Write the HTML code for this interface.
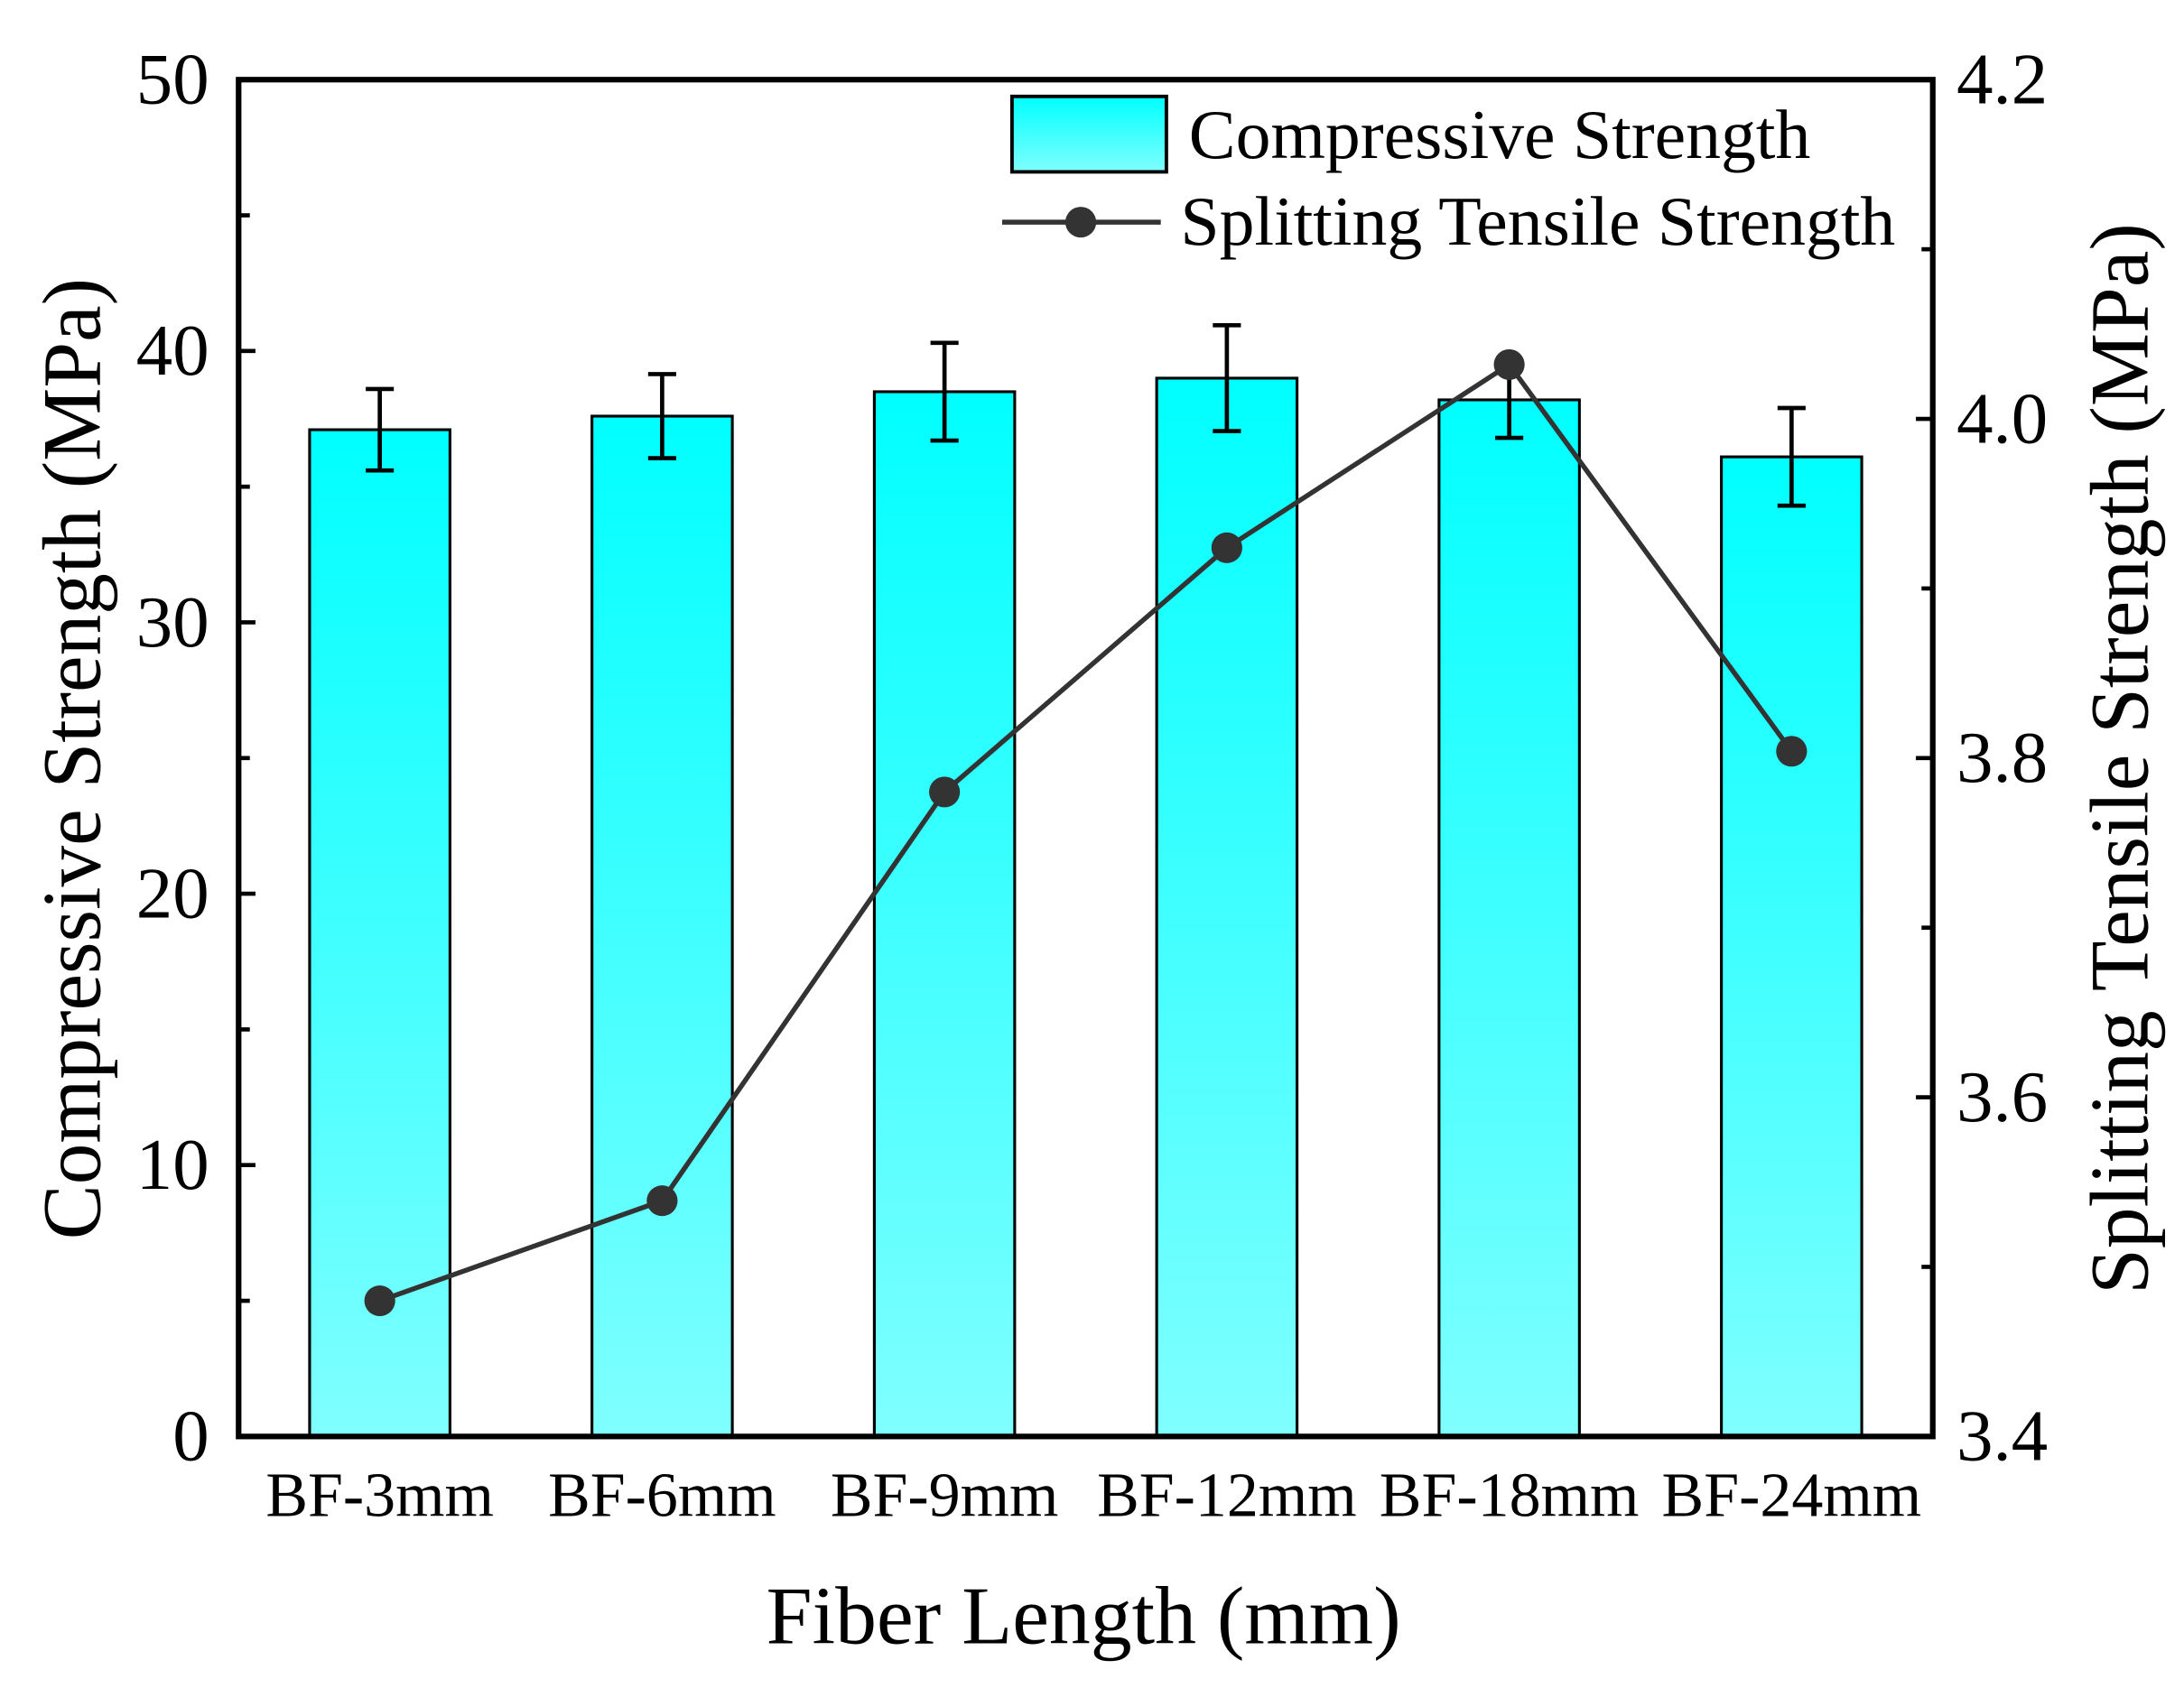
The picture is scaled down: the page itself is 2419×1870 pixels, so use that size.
<!DOCTYPE html>
<html><head><meta charset="utf-8"><style>
html,body{margin:0;padding:0;background:#fff;}
svg{display:block;}
text{font-family:"Liberation Serif",serif;fill:#000;}
</style></head><body>
<svg id="chart" width="2419" height="1870" viewBox="0 0 1556 1208" preserveAspectRatio="none" xmlns="http://www.w3.org/2000/svg">
<defs><linearGradient id="bg" x1="0" y1="0" x2="0" y2="1"><stop offset="0" stop-color="#00FFFF"/><stop offset="1" stop-color="#80FFFF"/></linearGradient></defs>
<g id="plot"></g>
</svg>
<script>
const categories = ["BF-3mm","BF-6mm","BF-9mm","BF-12mm","BF-18mm","BF-24mm"];
const compressive = [37.1,37.6,38.5,39.0,38.2,36.1];
const compressiveErr = [1.5,1.55,1.8,1.95,1.4,1.8];
const tensile = [3.48,3.539,3.78,3.924,4.032,3.804];
const leftTicks = [0,10,20,30,40,50];
const rightTicks = ["3.4","3.6","3.8","4.0","4.2"];

const NS="http://www.w3.org/2000/svg";
const L=170,R=1377,T=57,B=1028;
const yL=v=>B-(v/50)*(B-T);
const yR=v=>B-((v-3.4)/0.8)*(B-T);
const xC=i=>L+(i+0.5)*(R-L)/categories.length;
const g=document.getElementById('plot');
function mk(tag,attrs,parent){const e=document.createElementNS(NS,tag);for(const k in attrs)e.setAttribute(k,attrs[k]);(parent||g).appendChild(e);return e;}
const bw=100;
categories.forEach((c,i)=>{
  const x=xC(i);
  const b=mk('rect',{x:x-bw/2,y:yL(compressive[i]),width:bw,height:B-yL(compressive[i]),fill:'url(#bg)',stroke:'#000','stroke-width':2});
  
  
  const eg=mk('g',{stroke:'#000','stroke-width':3});
  
  
  const hi=yL(compressive[i]+compressiveErr[i]),lo=yL(compressive[i]-compressiveErr[i]);
  mk('line',{x1:x,x2:x,y1:hi,y2:lo},eg);
  mk('line',{x1:x-10,x2:x+10,y1:hi,y2:hi},eg);
  mk('line',{x1:x-10,x2:x+10,y1:lo,y2:lo},eg);
  const t=mk('text',{x:x,y:1085,'font-size':45,'text-anchor':'middle'});
  t.textContent=c;
  
  
});
const pts=tensile.map((v,i)=>xC(i)+','+yR(v)).join(' ');
const ln=mk('polyline',{points:pts,fill:'none',stroke:'#333','stroke-width':3.5});


tensile.forEach((v,i)=>{
  const p=mk('circle',{cx:xC(i),cy:yR(v),r:11,fill:'#333'});
  
  
});
const fr=mk('rect',{x:L,y:T,width:R-L,height:B-T,fill:'none',stroke:'#000','stroke-width':4});


leftTicks.forEach((v,i)=>{
  mk('line',{x1:L,x2:L+12,y1:yL(v),y2:yL(v),stroke:'#000','stroke-width':3});
  if(i<leftTicks.length-1) mk('line',{x1:L,x2:L+8,y1:yL(v+5),y2:yL(v+5),stroke:'#000','stroke-width':3});
  const t=mk('text',{x:149,y:yL(v)+17,'font-size':52,'text-anchor':'end'});
  t.textContent=v;
  
  
});
rightTicks.forEach((s,i)=>{
  const v=parseFloat(s);
  mk('line',{x1:R-12,x2:R,y1:yR(v),y2:yR(v),stroke:'#000','stroke-width':3});
  if(i<rightTicks.length-1) mk('line',{x1:R-8,x2:R,y1:yR(v+0.1),y2:yR(v+0.1),stroke:'#000','stroke-width':3});
  const t=mk('text',{x:1394,y:yR(v)+17,'font-size':52});
  t.textContent=s;
  
  
});
</script>
<svg style="position:absolute;left:0;top:0" width="2419" height="1870" viewBox="0 0 1556 1208" preserveAspectRatio="none" xmlns="http://www.w3.org/2000/svg">
<text x="0" y="0" font-size="59" text-anchor="middle" transform="translate(71,543) rotate(-90)">Compressive Strength (MPa)</text>
<text x="0" y="0" font-size="59" text-anchor="middle" transform="translate(1530,543) rotate(-90)">Splitting Tensile Strength (MPa)</text>
<text x="772" y="1176" font-size="59" text-anchor="middle">Fiber Length (mm)</text>
<g>
<rect x="721" y="69" width="110" height="54" fill="url(#bg)" stroke="#000" stroke-width="2.5"/>
<text x="847" y="113" font-size="50">Compressive Strength</text>
<line x1="714" x2="827" y1="159" y2="159" stroke="#333" stroke-width="3.5"/>
<circle cx="770" cy="159" r="11" fill="#333"/>
<text x="841" y="175" font-size="50">Splitting Tensile Strength</text>
</g>
</svg>
</body></html>
